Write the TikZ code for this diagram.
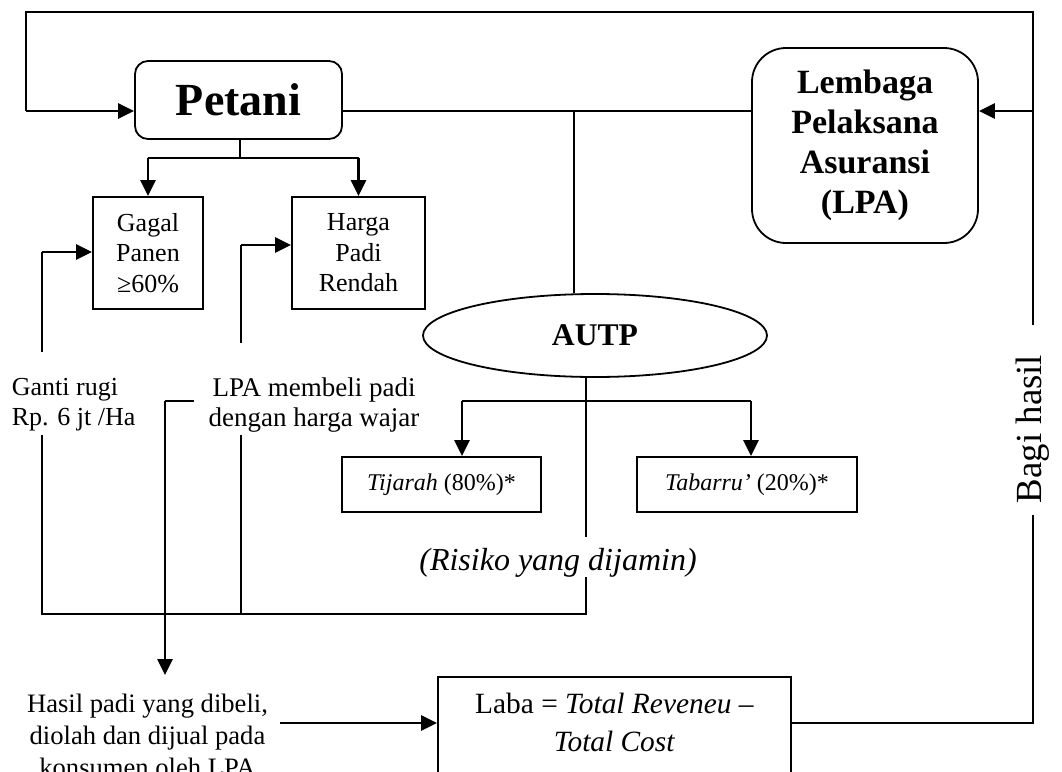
\documentclass[tikz,border=0pt]{standalone}
\usepackage{fontspec}
\setmainfont{Liberation Serif}
\usetikzlibrary{arrows.meta,
                shapes.geometric,
                calc}

\begin{document}
\begin{tikzpicture}[x=0.5pt,y=-0.5pt,line width=0.9pt,
  box/.style={draw,rectangle,inner sep=0pt,align=center},
  soft box/.style={box,rounded corners=#1},
  note/.style={inner sep=0pt,align=center},
  flow/.style={-{Triangle[length=8pt,width=7.5pt]},line width=1.3pt}]
\def\fsz#1#2{\fontsize{#1}{#2}\selectfont}
\useasboundingbox (0,0) rectangle (1062,772);
% boxes
\node[soft box=6.5pt,minimum width=103.5pt,minimum height=39pt,font=\fsz{23}{27}\bfseries] (petani) at (238.5,100) {Petani};
\node[soft box=17pt,minimum width=113pt,minimum height=97.5pt,font=\fsz{17}{20}\bfseries] (lpa) at (865,145.5) {Lembaga\\Pelaksana\\Asuransi\\(LPA)};
\node[box,minimum width=55pt,minimum height=56pt,font=\fsz{13}{15.3}] (gagal) at (148,253) {Gagal\\Panen\\≥60\%};
\node[box,minimum width=66.5pt,minimum height=56pt,font=\fsz{13}{15.3}] (harga) at (358.5,253) {Harga\\Padi\\Rendah};
\node[draw,ellipse,inner sep=0pt,minimum width=172pt,minimum height=41.5pt,font=\fsz{15.8}{18}\bfseries] (autp) at (595,335.5) {AUTP};
\node[box,minimum width=99.5pt,minimum height=27.5pt,font=\fsz{12}{14}] (tijarah) at (441.5,484.5) {\textit{Tijarah} (80\%)*};
\node[box,minimum width=110pt,minimum height=27.5pt,font=\fsz{12}{14}] (tabarru) at (747,484.5) {\textit{Tabarru’} (20\%)*};
\node[box,minimum width=176.5pt,minimum height=51pt,text depth=6pt,font=\fsz{14.7}{19}] (laba) at (614.5,728) {Laba = \textit{Total Reveneu –}\\\textit{Total Cost}};
% texts
\node[note,anchor=west,align=left,font=\fsz{13}{15}] (ganti) at (11,405) {Ganti rugi\\Rp. 6 jt /Ha};
\node[note,font=\fsz{13.5}{15}] (beli) at (314,405) {LPA membeli padi\\dengan harga wajar};
\node[note,font=\fsz{16}{19}\itshape] (risiko) at (558,563) {(Risiko yang dijamin)};
\node[note,font=\fsz{13.3}{16}] (hasil) at (147.5,735) {Hasil padi yang dibeli,\\diolah dan dijual pada\\konsumen oleh LPA};
\node[note,rotate=90,font=\fsz{18.4}{20}] (bagi) at (1033,429) {Bagi hasil};
% bends
\coordinate (pin) at (26,111);
\coordinate (tl) at (26,12);
\coordinate (tr) at (1033,12);
\coordinate (top) at (574,111);
\coordinate (split) at (240,158);
\coordinate (fork) at (586,401);
\coordinate (fl) at (462,401);
\coordinate (fr) at (751,401);
\coordinate (rtop) at (586,537);
\coordinate (rbot) at (586,577);
\coordinate (br) at (586,614);
\coordinate (bl) at (42,614);
\coordinate (bm) at (241,614);
\coordinate (gtop) at (42,352);
\coordinate (gbot) at (42,435);
\coordinate (htop) at (241,343);
\coordinate (hbot) at (241,435);
\coordinate (gin) at (42,252);
\coordinate (hin) at (241,245);
\coordinate (bstart) at (194,401);
\coordinate (bturn) at (165,401);
\coordinate (bend) at (165,675);
\coordinate (sout) at (280,723);
\coordinate (lout) at (1033,723);
\coordinate (btop) at (1033,325);
\coordinate (bbot) at (1033,515);
% top loop
\draw (btop) -- (tr) -- (tl) -- (pin);
\draw[flow] (pin) -- (petani.west |- pin);
\draw[flow] (tr |- pin) -- (lpa.east |- pin);
\draw (petani.east |- pin) -- (lpa.west |- pin);
\draw (top) -- (top |- autp.north);
% petani split
\draw (petani.south -| split) -- (split);
\draw (split -| gagal.north) -- (split -| harga.north);
\draw[flow] (split -| gagal.north) -- (gagal.north);
\draw[flow] (split -| harga.north) -- (harga.north);
% autp fork
\draw (fork |- autp.south) -- (rtop);
\draw (fl) -- (fr);
\draw[flow] (fl) -- (fl |- tijarah.north);
\draw[flow] (fr) -- (fr |- tabarru.north);
% claims
\draw (rbot) -- (br) -- (bl) -- (gbot);
\draw (bm) -- (hbot);
\draw (gtop) -- (gin);
\draw[flow] (gin) -- (gagal.west |- gin);
\draw (htop) -- (hin);
\draw[flow] (hin) -- (harga.west |- hin);
% sale and profit
\draw (bstart) -- (bturn);
\draw[flow] (bturn) -- (bend);
\draw[flow] (sout) -- (laba.west |- sout);
\draw (laba.east |- lout) -- (lout) -- (bbot);
\end{tikzpicture}
\end{document}
